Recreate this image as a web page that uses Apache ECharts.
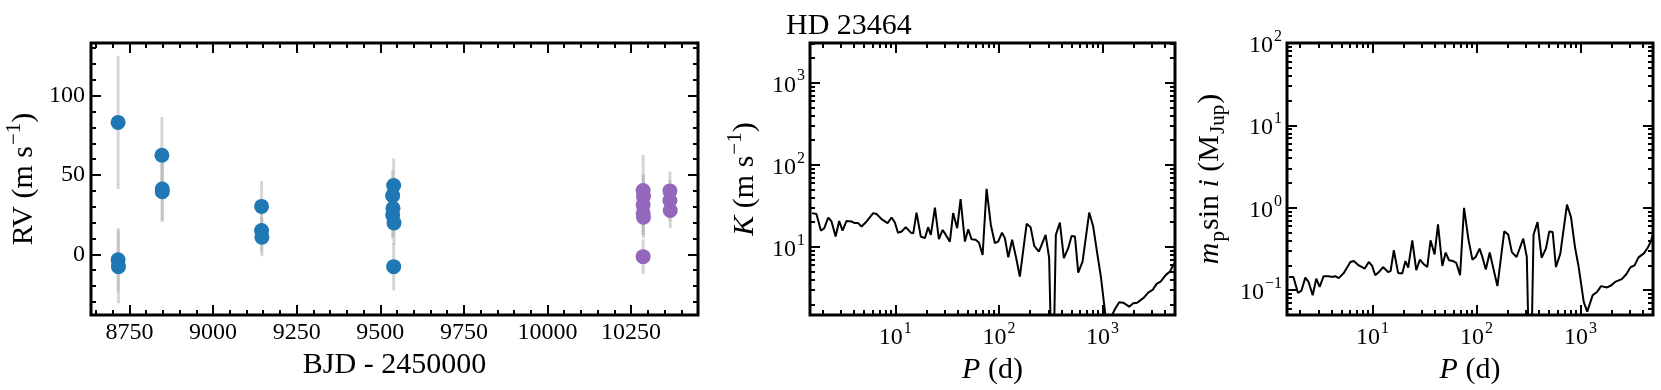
<!DOCTYPE html>
<html>
<head>
<meta charset="utf-8">
<title>HD 23464</title>
<script src="https://cdn.jsdelivr.net/npm/echarts@6.0.0/dist/echarts.min.js"></script>
<style>
  html, body { margin: 0; padding: 0; background: #fff; }
  #main { width: 1661px; height: 390px; }
</style>
</head>
<body>
<div id="main"></div>
<script>
// RV time series, first instrument (blue)
const bjd1 = [8716, 8716, 8717, 8847, 8848, 8848, 9145, 9145, 9146, 9540, 9537, 9538, 9537, 9541, 9540];
const rv1 = [83.2, -3.5, -7.8, 62.5, 41.2, 39.5, 30.2, 15.0, 10.8, 43.4, 37.0, 29.0, 24.8, 19.8, -7.8];
const rvErr1 = [42, 20, 23, 24, 20, 19, 16, 14, 12, 17, 16, 18, 15, 14, 15];

// RV time series, second instrument (purple)
const bjd2 = [10286, 10287, 10286, 10286, 10287, 10286, 10366, 10366, 10367];
const rv2 = [40.2, 36.4, 31.2, 25.9, 23.4, -1.5, 40.0, 33.9, 27.6];
const rvErr2 = [22.5, 14, 19, 14, 13, 11, 12.2, 13, 11.2];

// detection limits vs period
const period = [1.57, 1.73, 1.91, 2.06, 2.25, 2.42, 2.65, 2.87, 3.09, 3.38,
  3.78, 4.06, 4.37, 4.72, 5.28, 6.11, 6.59, 7.36, 8.41, 9.19,
  9.89, 10.6, 11.5, 12.6, 14.1, 14.9, 16.0, 17.6, 19.3, 20.7,
  22.0, 24.1, 26.3, 28.6, 30.7, 33.6, 36.1, 39.5, 42.6, 46.9,
  50.5, 54.4, 59.5, 64.0, 69.5, 75.9, 83.5, 91.3, 98.2, 107,
  114, 123, 134, 146, 159, 185, 202, 219, 243, 282,
  305, 329, 354, 387, 423, 466, 502, 541, 582, 641,
  743, 812, 887, 963, 1077, 1164, 1314, 1447, 1581, 1806,
  1974, 2158, 2505, 2755, 3040, 3320, 3630, 4085, 4465, 4808,
  5000];
const semiAmp = [25.8, 25.2, 15.8, 16.9, 22.8, 20.4, 13.4, 20.7, 15.8, 20.7,
  20.4, 19.5, 19.5, 17.7, 20.4, 25.8, 25.2, 21.8, 19.5, 22.8,
  19.8, 14.9, 15.4, 17.4, 14.9, 14.7, 26.2, 13.4, 12.8, 17.4,
  14.0, 30.1, 12.4, 16.1, 14.0, 11.6, 25.8, 16.9, 38.2, 11.6,
  16.4, 12.4, 12.2, 11.3, 7.98, 50.9, 18.5, 11.1, 11.6, 14.9,
  12.8, 7.49, 12.2, 7.49, 4.35, 19.1, 17.4, 10.3, 8.77, 14.0,
  7.28, 0.1, 14.0, 19.8, 7.28, 9.64, 13.6, 13.4, 4.86, 6.62,
  26.2, 17.7, 8.38, 4.35, 1.3, 1.25, 1.74, 2.12, 2.09, 1.87,
  2.06, 2.09, 2.41, 2.77, 2.99, 3.54, 3.78, 4.56, 5.0, 6.03,
  6.4];
const minMass = [0.145, 0.145, 0.093, 0.098, 0.142, 0.126, 0.087, 0.138, 0.11, 0.148,
  0.148, 0.145, 0.148, 0.14, 0.162, 0.22, 0.226, 0.2, 0.183, 0.22,
  0.197, 0.152, 0.166, 0.191, 0.166, 0.171, 0.305, 0.162, 0.159, 0.226,
  0.188, 0.403, 0.175, 0.235, 0.21, 0.191, 0.403, 0.272, 0.628, 0.197,
  0.286, 0.231, 0.226, 0.214, 0.152, 1.0, 0.42, 0.235, 0.253, 0.319,
  0.253, 0.178, 0.286, 0.18, 0.112, 0.517, 0.475, 0.29, 0.253, 0.422,
  0.253, 0.003, 0.471, 0.67, 0.248, 0.319, 0.517, 0.507, 0.191, 0.278,
  1.096, 0.77, 0.334, 0.191, 0.072, 0.055, 0.087, 0.095, 0.112, 0.108,
  0.114, 0.126, 0.136, 0.155, 0.19, 0.2, 0.25, 0.28, 0.33, 0.40,
  0.48];

// tick values
const bjdMajor = [8750, 9000, 9250, 9500, 9750, 10000, 10250];
const bjdMinor = [8650, 8700, 8800, 8850, 8900, 8950, 9050, 9100, 9150, 9200,
  9300, 9350, 9400, 9450, 9550, 9600, 9650, 9700, 9800, 9850, 9900, 9950,
  10050, 10100, 10150, 10200, 10300, 10350, 10400];
const rvMajor = [0, 50, 100];
const rvMinor = [-30, -20, -10, 10, 20, 30, 40, 60, 70, 80, 90, 110, 120, 130];
const periodMajor = [10, 100, 1000];
const periodMinor = [2, 3, 4, 5, 6, 7, 8, 9, 20, 30, 40, 50, 60, 70, 80, 90,
  200, 300, 400, 500, 600, 700, 800, 900, 2000, 3000, 4000];
const kMajor = [10, 100, 1000];
const kMinor = [2, 3, 4, 5, 6, 7, 8, 9, 20, 30, 40, 50, 60, 70, 80, 90,
  200, 300, 400, 500, 600, 700, 800, 900, 2000, 3000];
const massMajor = [0.1, 1, 10, 100];
const massMinor = [0.06, 0.07, 0.08, 0.09, 0.2, 0.3, 0.4, 0.5, 0.6, 0.7, 0.8, 0.9,
  2, 3, 4, 5, 6, 7, 8, 9, 20, 30, 40, 50, 60, 70, 80, 90];

const FONT = "'Liberation Serif', 'Times New Roman', 'DejaVu Serif', serif";
const TICK_SIZE = 24;
const NAME_SIZE = 30;

const nameRich = {
  n: { fontFamily: FONT, fontSize: NAME_SIZE, color: '#000', verticalAlign: 'top', padding: [5, 0, 0, 0] },
  i: { fontFamily: FONT, fontSize: NAME_SIZE, color: '#000', fontStyle: 'italic', verticalAlign: 'top', padding: [5, 0, 0, 0] },
  sup: { fontFamily: FONT, fontSize: 21, color: '#000', verticalAlign: 'top', padding: [0, 0, 0, 1] },
  sub: { fontFamily: FONT, fontSize: 21, color: '#000', verticalAlign: 'top', padding: [18, 1, 0, 1] }
};
const logRich = {
  b: { fontFamily: FONT, fontSize: TICK_SIZE, color: '#000', verticalAlign: 'top', padding: [5, 0, 0, 0] },
  s: { fontFamily: FONT, fontSize: 16, color: '#000', verticalAlign: 'top', padding: [0, 0, 0, 1] }
};

function logLabel(v) {
  const e = Math.round(Math.log10(v));
  return '{b|10}{s|' + (e < 0 ? '\u2212' + (-e) : e) + '}';
}

// four axes per side pair: labelled major, minor, mirrored major, mirrored minor
function frameAxes(gridIndex, pos, mirror, base, major, minor, label, name) {
  const tick = (vals, len) => ({
    show: true, inside: true, length: len, customValues: vals,
    lineStyle: { color: '#000', width: 2 }
  });
  const common = Object.assign({
    gridIndex: gridIndex,
    axisLine: { show: false, onZero: false },
    splitLine: { show: false },
    minorTick: { show: false }
  }, base);
  return [
    Object.assign({}, common, { position: pos, axisTick: tick(major, 10), axisLabel: label }, name),
    Object.assign({}, common, { position: pos, axisTick: tick(minor, 5), axisLabel: { show: false } }),
    Object.assign({}, common, { position: mirror, axisTick: tick(major, 10), axisLabel: { show: false } }),
    Object.assign({}, common, { position: mirror, axisTick: tick(minor, 5), axisLabel: { show: false } })
  ];
}

const plainLabel = (vals, margin) => ({
  show: true, customValues: vals, margin: margin,
  fontFamily: FONT, fontSize: TICK_SIZE, color: '#000',
  formatter: v => String(v).replace('-', '\u2212')
});
const powLabel = (vals, margin) => ({
  show: true, customValues: vals, margin: margin,
  formatter: logLabel, rich: logRich
});

const xName = (text, gap) => ({
  name: text, nameLocation: 'middle', nameGap: gap,
  nameTextStyle: { fontFamily: FONT, fontSize: NAME_SIZE, color: '#000', rich: nameRich }
});
const yName = (text, gap) => ({
  name: text, nameLocation: 'middle', nameGap: gap, nameRotate: 90,
  nameTextStyle: { fontFamily: FONT, fontSize: NAME_SIZE, color: '#000', rich: nameRich }
});

const grids = [
  { left: 91, top: 43, width: 607, height: 272 },
  { left: 810, top: 43, width: 365, height: 272 },
  { left: 1287, top: 43, width: 366, height: 272 }
].map(g => Object.assign(g, { show: true, borderColor: '#000', borderWidth: 3, backgroundColor: 'transparent' }));

const xAxes = [].concat(
  frameAxes(0, 'bottom', 'top', { type: 'value', min: 8635, max: 10450 },
    bjdMajor, bjdMinor, plainLabel(bjdMajor, 6), xName('{n|BJD - 2450000}', 26)),
  frameAxes(1, 'bottom', 'top', { type: 'log', logBase: 10, min: 1.5, max: 5000 },
    periodMajor, periodMinor, powLabel(periodMajor, 6), xName('{i|P}{n| (d)}', 26)),
  frameAxes(2, 'bottom', 'top', { type: 'log', logBase: 10, min: 1.5, max: 5000 },
    periodMajor, periodMinor, powLabel(periodMajor, 6), xName('{i|P}{n| (d)}', 26))
);
const yAxes = [].concat(
  frameAxes(0, 'left', 'right', { type: 'value', min: -38.3, max: 133.3 },
    rvMajor, rvMinor, plainLabel(rvMajor, 6), yName('{n|RV (m s}{sup|\u22121}{n|)}', 52)),
  frameAxes(1, 'left', 'right', { type: 'log', logBase: 10, min: 1.48, max: 3050 },
    kMajor, kMinor, powLabel(kMajor, 5), yName('{i|K}{n| (m s}{sup|\u22121}{n|)}', 50)),
  frameAxes(2, 'left', 'right', { type: 'log', logBase: 10, min: 0.05, max: 100 },
    massMajor, massMinor, powLabel(massMajor, 5), yName('{i|m}{sub|p}{n|sin}{i| i}{n| (M}{sub|Jup}{n|)}', 58))
);

function errorBars(bjd, rv, err) {
  return {
    type: 'custom', xAxisIndex: 0, yAxisIndex: 0, z: 1,
    data: bjd.map((t, i) => [t, rv[i], err[i]]),
    renderItem: (params, api) => {
      const lo = api.coord([api.value(0), api.value(1) - api.value(2)]);
      const hi = api.coord([api.value(0), api.value(1) + api.value(2)]);
      return {
        type: 'line',
        shape: { x1: lo[0], y1: lo[1], x2: hi[0], y2: hi[1] },
        style: { stroke: 'rgba(185,185,185,0.6)', lineWidth: 3 }
      };
    }
  };
}

const chart = echarts.init(document.getElementById('main'));
chart.setOption({
  animation: false,
  backgroundColor: '#fff',
  title: {
    text: 'HD 23464', left: 781, top: 6,
    textStyle: { fontFamily: FONT, fontSize: 30, fontWeight: 'normal', color: '#000' }
  },
  grid: grids,
  xAxis: xAxes,
  yAxis: yAxes,
  series: [
    errorBars(bjd1, rv1, rvErr1),
    errorBars(bjd2, rv2, rvErr2),
    {
      type: 'scatter', xAxisIndex: 0, yAxisIndex: 0, z: 3,
      symbolSize: 15, itemStyle: { color: '#1f77b4', opacity: 1 },
      data: bjd1.map((t, i) => [t, rv1[i]])
    },
    {
      type: 'scatter', xAxisIndex: 0, yAxisIndex: 0, z: 3,
      symbolSize: 15, itemStyle: { color: '#9467bd', opacity: 1 },
      data: bjd2.map((t, i) => [t, rv2[i]])
    },
    {
      type: 'line', xAxisIndex: 4, yAxisIndex: 4, showSymbol: false, clip: true,
      lineStyle: { color: '#000', width: 2 },
      data: period.map((p, i) => [p, semiAmp[i]])
    },
    {
      type: 'line', xAxisIndex: 8, yAxisIndex: 8, showSymbol: false, clip: true,
      lineStyle: { color: '#000', width: 2 },
      data: period.map((p, i) => [p, minMass[i]])
    }
  ]
});
</script>
</body>
</html>
